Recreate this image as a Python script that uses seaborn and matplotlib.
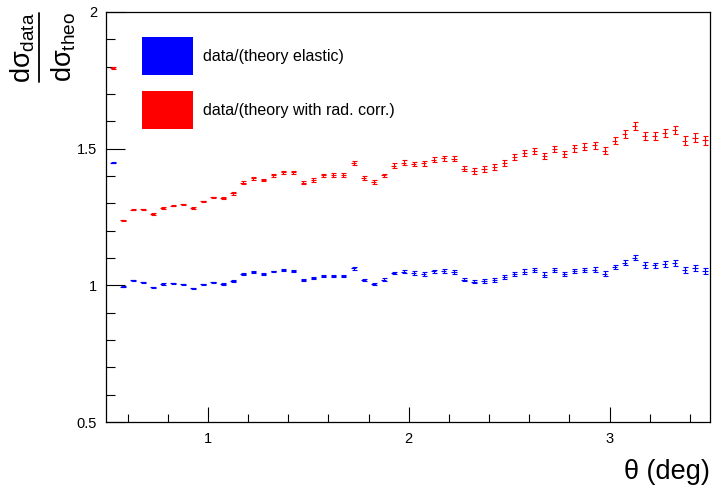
import pandas as pd
import numpy as np

import matplotlib
matplotlib.use("Agg")
import matplotlib.pyplot as plt
from matplotlib.patches import Rectangle
from matplotlib.lines import Line2D
from matplotlib.ticker import MultipleLocator, FuncFormatter
import seaborn as sns

# ==========================================================
# DATA  (ratio data / theory, bins of 0.05 deg)
# ==========================================================

theta = [
    0.525, 0.575, 0.625, 0.675, 0.725, 0.775, 0.825, 0.875, 0.925, 0.975,
    1.025, 1.075, 1.125, 1.175, 1.225, 1.275, 1.325, 1.375, 1.425, 1.475,
    1.525, 1.575, 1.625, 1.675, 1.725, 1.775, 1.825, 1.875, 1.925, 1.975,
    2.025, 2.075, 2.125, 2.175, 2.225, 2.275, 2.325, 2.375, 2.425, 2.475,
    2.525, 2.575, 2.625, 2.675, 2.725, 2.775, 2.825, 2.875, 2.925, 2.975,
    3.025, 3.075, 3.125, 3.175, 3.225, 3.275, 3.325, 3.375, 3.425, 3.475,
]

ratio_elastic = [
    1.448, 0.995, 1.018, 1.011, 0.993, 1.005, 1.007, 1.004, 0.990, 1.004,
    1.012, 1.005, 1.016, 1.041, 1.049, 1.041, 1.051, 1.057, 1.052, 1.021,
    1.027, 1.035, 1.035, 1.033, 1.062, 1.020, 1.005, 1.021, 1.045, 1.050,
    1.045, 1.041, 1.051, 1.052, 1.049, 1.021, 1.014, 1.017, 1.021, 1.029,
    1.041, 1.050, 1.055, 1.039, 1.056, 1.041, 1.052, 1.056, 1.057, 1.043,
    1.067, 1.082, 1.101, 1.074, 1.073, 1.078, 1.083, 1.055, 1.062, 1.054,
]

err_elastic = [
    0.002, 0.002, 0.002, 0.002, 0.002, 0.002, 0.002, 0.002, 0.002, 0.002,
    0.002, 0.003, 0.003, 0.003, 0.003, 0.003, 0.003, 0.003, 0.004, 0.004,
    0.004, 0.004, 0.004, 0.004, 0.005, 0.005, 0.005, 0.005, 0.005, 0.005,
    0.006, 0.006, 0.006, 0.006, 0.006, 0.006, 0.007, 0.007, 0.007, 0.007,
    0.007, 0.008, 0.008, 0.008, 0.008, 0.008, 0.008, 0.009, 0.009, 0.009,
    0.009, 0.009, 0.010, 0.010, 0.010, 0.010, 0.011, 0.011, 0.011, 0.011,
]

ratio_radcorr = [
    1.795, 1.238, 1.277, 1.278, 1.260, 1.283, 1.292, 1.296, 1.283, 1.307,
    1.322, 1.319, 1.336, 1.376, 1.391, 1.385, 1.403, 1.414, 1.413, 1.375,
    1.385, 1.403, 1.404, 1.404, 1.448, 1.393, 1.377, 1.402, 1.438, 1.449,
    1.444, 1.446, 1.459, 1.465, 1.463, 1.427, 1.419, 1.426, 1.433, 1.447,
    1.469, 1.484, 1.493, 1.473, 1.498, 1.481, 1.501, 1.507, 1.512, 1.493,
    1.529, 1.553, 1.582, 1.547, 1.546, 1.556, 1.567, 1.529, 1.540, 1.531,
]

err_radcorr = [
    0.003, 0.002, 0.002, 0.002, 0.003, 0.003, 0.003, 0.003, 0.003, 0.003,
    0.003, 0.004, 0.004, 0.004, 0.004, 0.005, 0.005, 0.005, 0.005, 0.006,
    0.006, 0.006, 0.006, 0.006, 0.007, 0.007, 0.007, 0.007, 0.008, 0.008,
    0.008, 0.008, 0.009, 0.009, 0.009, 0.009, 0.010, 0.010, 0.010, 0.011,
    0.011, 0.011, 0.011, 0.012, 0.012, 0.012, 0.012, 0.013, 0.013, 0.013,
    0.013, 0.014, 0.014, 0.014, 0.015, 0.015, 0.015, 0.016, 0.016, 0.016,
]

labels = ["data/(theory elastic)", "data/(theory with rad. corr.)"]
colors = ["#0000ff", "#ff0000"]

df = pd.concat([
    pd.DataFrame({"theta": theta, "ratio": ratio_elastic,
                  "err": err_elastic, "series": labels[0]}),
    pd.DataFrame({"theta": theta, "ratio": ratio_radcorr,
                  "err": err_radcorr, "series": labels[1]}),
], ignore_index=True)

# ==========================================================
# STYLE
# ==========================================================

sns.set_theme(style="white")
plt.rcParams["font.family"] = ["Liberation Sans", "DejaVu Sans"]
plt.rcParams["text.color"] = "black"
plt.rcParams["axes.labelcolor"] = "black"
plt.rcParams["mathtext.fontset"] = "custom"
plt.rcParams["mathtext.rm"] = "Liberation Sans"
plt.rcParams["mathtext.it"] = "Liberation Sans"
plt.rcParams["mathtext.bf"] = "Liberation Sans:bold"

W, H = 713, 487
fig = plt.figure(figsize=(W / 100, H / 100), dpi=100)
ax = fig.add_axes([105.5 / W, 65 / H, (710 - 105.5) / W, (422 - 12) / H])

# ==========================================================
# PLOT
# ==========================================================

palette = dict(zip(labels, colors))

sns.scatterplot(
    data=df, x="theta", y="ratio", hue="series", palette=palette,
    marker="_", s=14, linewidth=0.8, legend=False, ax=ax
)

for name in labels:
    sub = df[df["series"] == name]
    ax.errorbar(
        sub["theta"], sub["ratio"], yerr=sub["err"], fmt="none",
        ecolor=palette[name], elinewidth=0.8, capsize=1.8, capthick=0.8
    )

ax.set_xlim(0.49, 3.5)
ax.set_ylim(0.5, 2.0)

ax.xaxis.set_major_locator(MultipleLocator(1))
ax.xaxis.set_minor_locator(MultipleLocator(0.2))
ax.yaxis.set_major_locator(MultipleLocator(0.5))
ax.yaxis.set_minor_locator(MultipleLocator(0.1))
fmt = FuncFormatter(lambda v, p: f"{v:g}")
ax.xaxis.set_major_formatter(fmt)
ax.yaxis.set_major_formatter(fmt)

ax.tick_params(axis="both", which="both", direction="in", width=0.8,
               color="black", labelsize=10.5, labelcolor="black",
               bottom=True, left=True, top=False, right=False)
ax.tick_params(axis="x", which="major", length=10.9, pad=7.5)
ax.tick_params(axis="x", which="minor", length=5.6)
ax.tick_params(axis="y", which="major", length=13.5, pad=6)
ax.tick_params(axis="y", which="minor", length=6.8)

for sp in ax.spines.values():
    sp.set_visible(True)
    sp.set_color("black")
    sp.set_linewidth(0.9)

ax.set_xlabel("")
ax.set_ylabel("")

# legend : coloured boxes + labels, no frame
box_top = [37, 91]
for lab, col, top in zip(labels, colors, box_top):
    fig.add_artist(Rectangle((142 / W, 1 - (top + 38) / H), 51 / W, 38 / H,
                             transform=fig.transFigure, facecolor=col,
                             edgecolor="none"))
    fig.text(203 / W, 1 - (top + 19.5) / H, lab, ha="left", va="center",
             fontsize=11.5)

# y title : fraction d sigma_data / d sigma_theo (rotated)
y_mid = 1 - 47.5 / H
fig.text(22.5 / W, y_mid, r"$d\sigma_{data}$", rotation=90,
         ha="center", va="center", fontsize=19.5)
fig.text(63.5 / W, y_mid, r"$d\sigma_{theo}$", rotation=90,
         ha="center", va="center", fontsize=19.5)
fig.add_artist(Line2D([39.3 / W, 39.3 / W], [1 - 13 / H, 1 - 82 / H],
                      transform=fig.transFigure, color="black", lw=1.3))

# x title
fig.text(710 / W, 1 - 472 / H, "θ (deg)", ha="right", va="center",
         fontsize=19.5)

fig.savefig("out.png", dpi=100)
